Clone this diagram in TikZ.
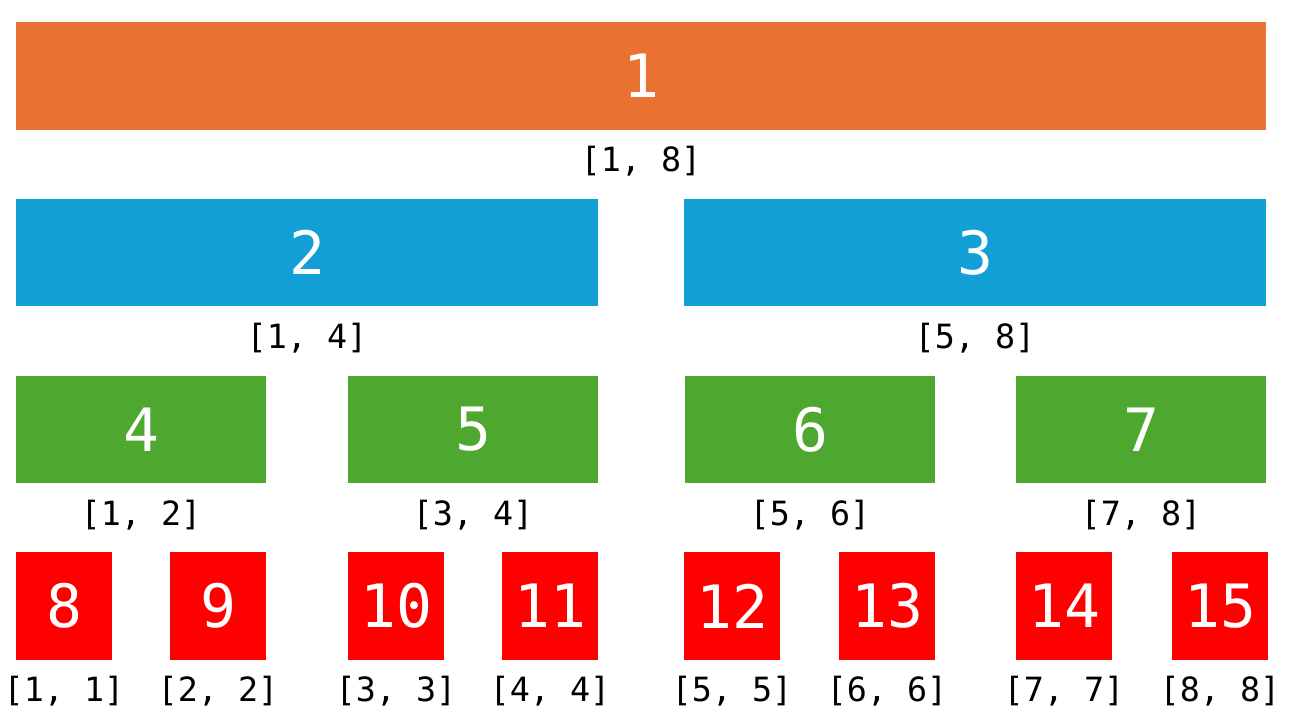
\documentclass[tikz,border=0pt]{standalone}
\usepackage{fontspec}
\setmonofont{DejaVu Sans Mono}
\usetikzlibrary{positioning}
\definecolor{segorange}{HTML}{E97132}
\definecolor{segblue}{HTML}{129FD6}
\definecolor{seggreen}{HTML}{4EA72E}
\definecolor{segred}{HTML}{FF0000}
\tikzset{
  seg/.style={rectangle,inner sep=0,text=white,font=\ttfamily\fontsize{34}{34}\selectfont},
  rng/.style={anchor=center,inner sep=0,font=\ttfamily\fontsize{19}{19}\selectfont},
}
\begin{document}
\begin{tikzpicture}[x=0.02cm,y=-0.02cm]
        \useasboundingbox (0,0) rectangle (1300,725);
        %% root
        \node[seg,fill=segorange,minimum width=25cm,minimum height=2.16cm] (b1) at (641,76) {1};
        \node[rng] (r1) at ([yshift=-0.62cm]b1.south) {[1, 8]};
        %% level 2
        \foreach \n/\x/\lo/\hi in {2/307/1/4,3/975/5/8}{
            \node[seg,fill=segblue,minimum width=11.64cm,minimum height=2.14cm] (b\n) at (\x,252.5) {\n};
            \node[rng] (r\n) at ([yshift=-0.64cm]b\n.south) {[\lo, \hi]};
        }
        %% level 3
        \foreach \n/\x/\lo/\hi in {4/141/1/2,5/473/3/4,6/810/5/6,7/1141/7/8}{
            \node[seg,fill=seggreen,minimum width=5cm,minimum height=2.14cm] (b\n) at (\x,429.5) {\n};
            \node[rng] (r\n) at ([yshift=-0.64cm]b\n.south) {[\lo, \hi]};
        }
        %% leaves
        \foreach \n/\x/\lo in {8/64/1,9/218/2,10/396/3,11/550/4,12/732/5,13/887/6,14/1064/7,15/1220/8}{
            \node[seg,fill=segred,minimum width=1.92cm,minimum height=2.16cm] (b\n) at (\x,606) {\n};
            \node[rng] (r\n) at ([yshift=-0.62cm]b\n.south) {[\lo, \lo]};
        }
    \end{tikzpicture}
\end{document}
